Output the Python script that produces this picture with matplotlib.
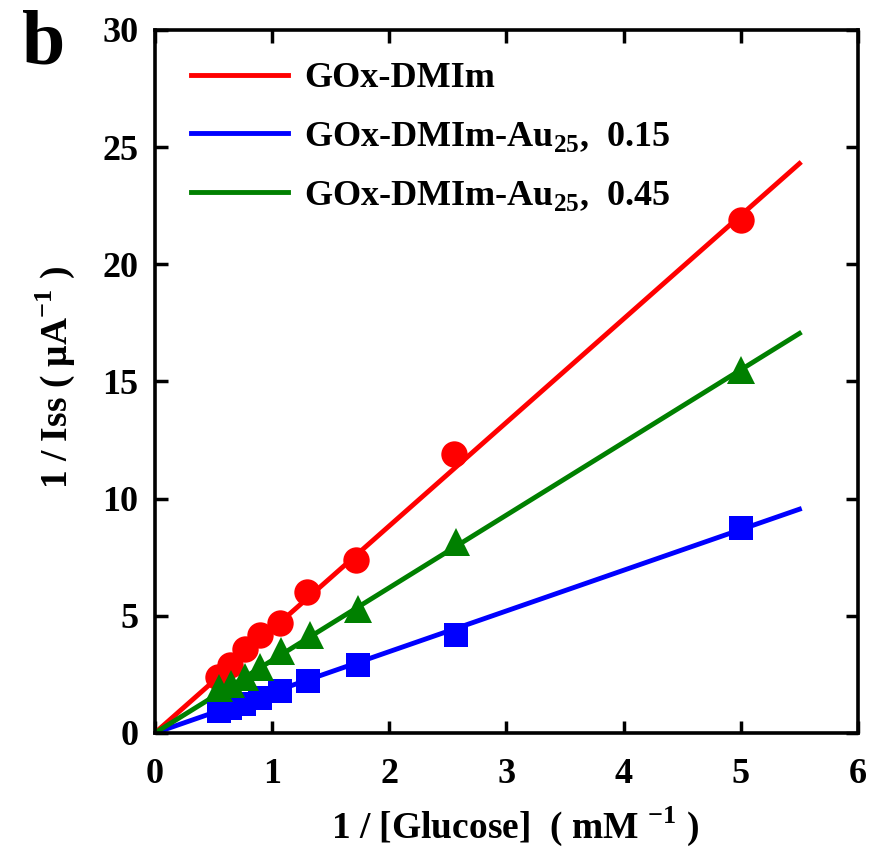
import matplotlib
matplotlib.use("Agg")
from matplotlib import pyplot as plt

# 1 / [Glucose] values (mM^-1)
red_x = [0.54, 0.64, 0.77, 0.90, 1.07, 1.30, 1.72, 2.55, 5.0]
red_y = [2.4, 2.9, 3.6, 4.2, 4.7, 6.0, 7.4, 11.9, 21.9]

blue_x = [0.55, 0.64, 0.76, 0.90, 1.07, 1.31, 1.73, 2.57, 5.0]
blue_y = [0.95, 1.05, 1.25, 1.5, 1.8, 2.2, 2.9, 4.2, 8.75]

green_x = [0.55, 0.65, 0.77, 0.90, 1.08, 1.32, 1.73, 2.57, 5.0]
green_y = [1.9, 2.1, 2.4, 2.8, 3.5, 4.2, 5.3, 8.15, 15.5]

# linear fits, drawn from the origin to x = 5.5
fit_x = [0.0, 5.5]
red_fit = [0.0, 24.3]
blue_fit = [0.0, 9.55]
green_fit = [0.0, 17.05]

labels = ["GOx-DMIm",
          r"GOx-DMIm-Au$_{\mathbf{25}}$,  0.15",
          r"GOx-DMIm-Au$_{\mathbf{25}}$,  0.45"]


def main():
    plt.rcParams["font.family"] = ["Liberation Serif", "DejaVu Serif"]
    plt.rcParams["font.weight"] = "bold"
    plt.rcParams["mathtext.fontset"] = "custom"
    plt.rcParams["mathtext.rm"] = "Liberation Serif:bold"
    plt.rcParams["mathtext.bf"] = "Liberation Serif:bold"

    fig = plt.figure(figsize=(8.85, 8.57), dpi=100)
    ax = fig.add_axes([0.175, 0.1447, 0.7945, 0.8203])

    red, blue, green = "#ff0000", "#0000ff", "#008000"
    ax.plot(fit_x, red_fit, color=red, lw=3.5, label=labels[0])
    ax.plot(fit_x, blue_fit, color=blue, lw=3.5, label=labels[1])
    ax.plot(fit_x, green_fit, color=green, lw=3.5, label=labels[2])

    ax.plot(red_x, red_y, "o", color=red, ms=19, mew=0)
    ax.plot(blue_x, blue_y, "s", color=blue, ms=17, mew=0)
    ax.plot(green_x, green_y, "^", color=green, ms=20, mew=0)

    ax.set_xlim(0, 6)
    ax.set_ylim(0, 30)
    ax.set_xticks(range(0, 7))
    ax.set_yticks(range(0, 31, 5))
    ax.tick_params(direction="in", length=9, width=2.5, labelsize=26,
                   top=True, right=True)
    ax.tick_params(axis="x", pad=18)
    ax.tick_params(axis="y", pad=12)
    for label in ax.get_xticklabels() + ax.get_yticklabels():
        label.set_fontweight("bold")
    for spine in ax.spines.values():
        spine.set_linewidth(2.6)

    ax.set_xlabel(r"1 / [Glucose]  ( mM $^{\mathbf{-1}}$ )", fontsize=27,
                  fontweight="bold")
    ax.set_ylabel(r"1 / Iss ( $\mathbf{\mu}$A$^{\mathbf{-1}}$ )", fontsize=27,
                  fontweight="bold")
    ax.xaxis.set_label_coords(0.512, -0.102)
    ax.yaxis.set_label_coords(-0.111, 0.505)

    ax.legend(loc="upper left", frameon=False, fontsize=26, handlelength=2.7,
              handletextpad=0.45, labelspacing=0.68, borderaxespad=0.2,
              bbox_to_anchor=(0.02, 0.985))

    fig.text(0.025, 0.926, "b", fontsize=56, fontweight="bold")

    fig.savefig("out.png", dpi=100)


if __name__ == "__main__":
    main()
